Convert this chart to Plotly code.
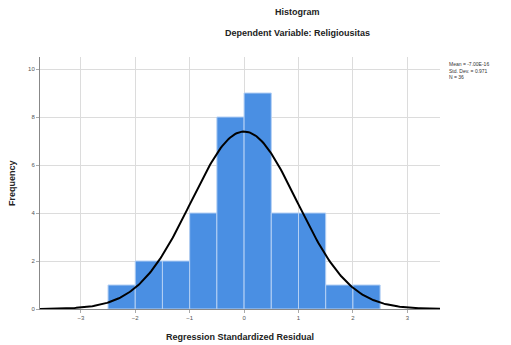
import numpy as np
import plotly.graph_objects as go

bin_starts = [-2.5, -2.0, -1.5, -1.0, -0.5, 0.0, 0.5, 1.0, 1.5, 2.0]
bin_width = 0.5
frequencies = [1, 2, 2, 4, 8, 9, 4, 4, 1, 1]
mean_val = -7.00e-16
std_val = 0.971
n_val = 36
x_ticks = [-3, -2, -1, 0, 1, 2, 3]
y_ticks = [0, 2, 4, 6, 8, 10]

W, H = 511, 345
L, R, T, B = 40, 71, 57, 36

centers = [s + bin_width / 2 for s in bin_starts]
xs = np.linspace(-3.75, 3.6, 300)
ys = n_val * bin_width / (std_val * np.sqrt(2 * np.pi)) * np.exp(-0.5 * ((xs - mean_val) / std_val) ** 2)

fig = go.Figure()
fig.add_trace(go.Bar(x=centers, y=frequencies, width=bin_width,
                     marker=dict(color="#4A8FE3", line=dict(color="#B4D0F4", width=1)),
                     hoverinfo="skip"))
fig.add_trace(go.Scatter(x=xs, y=ys, mode="lines", line=dict(color="black", width=2), hoverinfo="skip"))

pw = W - L - R
ph = H - T - B
def px_x(p):
    return (p - L) / pw
def px_y(p):
    return (H - B - p) / ph

fig.update_layout(
    width=W, height=H, margin=dict(l=L, r=R, t=T, b=B),
    paper_bgcolor="white", plot_bgcolor="white", showlegend=False,
    font=dict(family="Liberation Sans, Arial, sans-serif", color="#222"),
    xaxis=dict(range=[-3.75, 3.6], tickvals=x_ticks, showgrid=True, gridcolor="#DCDCDC", gridwidth=1,
               zeroline=False, showline=True, linecolor="#888", linewidth=1,
               ticks="outside", ticklen=3, tickcolor="#AAA", tickfont=dict(size=6, color="#555")),
    yaxis=dict(range=[0, 10.5], tickvals=y_ticks, showgrid=True, gridcolor="#DCDCDC", gridwidth=1,
               zeroline=False, showline=True, linecolor="#888", linewidth=1,
               ticks="outside", ticklen=3, tickcolor="#AAA", tickfont=dict(size=6, color="#555")),
    annotations=[
        dict(text="<b>Histogram</b>", x=px_x(297), y=px_y(12),
             xref="paper", yref="paper", showarrow=False, font=dict(size=9, color="#222"), xanchor="center", yanchor="middle"),
        dict(text="<b>Dependent Variable: Religiousitas</b>", x=px_x(297), y=px_y(33),
             xref="paper", yref="paper", showarrow=False, font=dict(size=9, color="#222"), xanchor="center", yanchor="middle"),
        dict(text="<b>Regression Standardized Residual</b>", x=0.5, y=px_y(337),
             xref="paper", yref="paper", showarrow=False, font=dict(size=9, color="#222"), xanchor="center", yanchor="middle"),
        dict(text="<b>Frequency</b>", x=px_x(12), y=0.5, textangle=-90,
             xref="paper", yref="paper", showarrow=False, font=dict(size=9, color="#222"), xanchor="center", yanchor="middle"),
        dict(text=f"Mean = {mean_val:.2E}<br>Std. Dev. = {std_val:.3f}<br>N = {n_val}",
             x=px_x(447), y=px_y(59), xref="paper", yref="paper", showarrow=False,
             align="left", xanchor="left", yanchor="top", font=dict(size=5, color="#333")),
    ],
)
fig.write_html("out.html", config={"displayModeBar": False},
               post_script="document.body.style.margin='0';document.body.style.padding='0';")
